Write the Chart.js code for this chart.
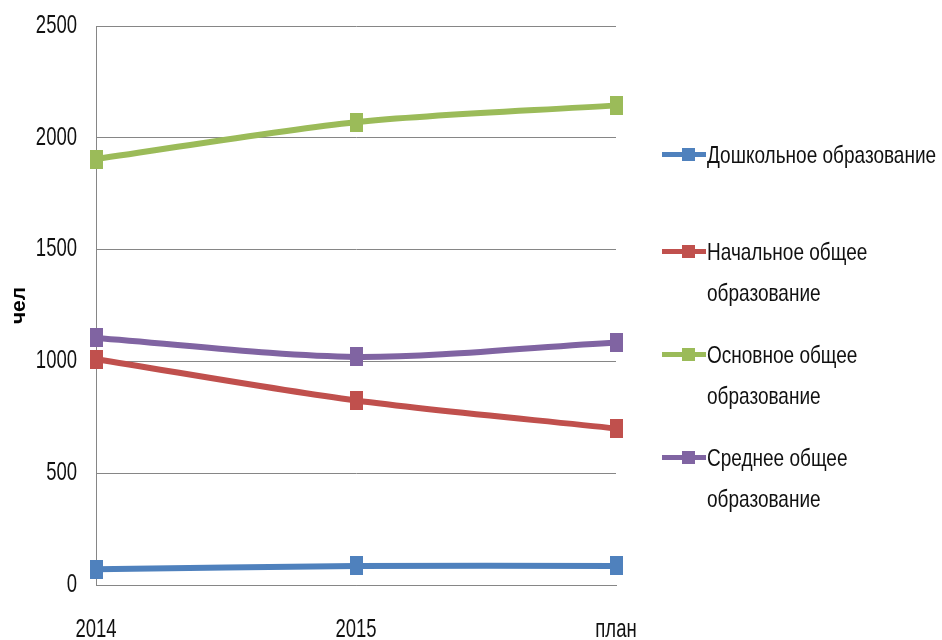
<!DOCTYPE html>
<html>
<head>
<meta charset="utf-8">
<script src="https://cdn.jsdelivr.net/npm/chart.js@4.4.1/dist/chart.umd.min.js"></script>
<style>
  html, body { margin: 0; padding: 0; background: #fff; }
  #wrap { position: relative; width: 942px; height: 640px; overflow: hidden; }
  #c { position: absolute; left: 0; top: 0; }
  #legend { position: absolute; left: 662px; top: 0; font-family: "Liberation Sans", sans-serif; font-size: 24px; color: #111; }
  .item { position: absolute; left: 0; white-space: nowrap; }
  .sym { position: absolute; left: 0; width: 44px; height: 5px; }
  .sym i { position: absolute; left: 20px; top: -4px; width: 13px; height: 13px; }
  .txt { position: absolute; left: 45px; line-height: 41px; transform-origin: 0 0; }
</style>
</head>
<body>
<div id="wrap">
  <canvas id="c" width="942" height="640"></canvas>
  <div id="legend"></div>
</div>
<script>
const categories = ["2014", "2015", "план"];
const seriesNames = [
  ["Дошкольное образование"],
  ["Начальное общее", "образование"],
  ["Основное общее", "образование"],
  ["Среднее общее", "образование"]
];
const preschool = [70, 85, 85];
const primary = [1010, 825, 700];
const basic = [1905, 2070, 2145];
const secondary = [1105, 1020, 1085];
const yTicks = [0, 500, 1000, 1500, 2000, 2500];
const colors = ["#4F81BD", "#C0504D", "#9BBB59", "#8064A2"];
const legendTops = [134, 231, 334, 437];

const values = [preschool, primary, basic, secondary];
const FONT = "'Liberation Sans', sans-serif";
const SQUEEZE = 0.74;

const canvas = document.getElementById('c');
const ctx = canvas.getContext('2d');
const origFill = ctx.fillText.bind(ctx);
ctx.fillText = function (text, x, y) {
  if (/bold/.test(this.font)) return origFill(text, x, y);
  this.save();
  this.translate(x, y);
  this.scale(SQUEEZE, 1);
  origFill(text, 0, 0);
  this.restore();
};

function marker(color) {
  const m = document.createElement('canvas');
  m.width = 13; m.height = 19;
  const g = m.getContext('2d');
  g.fillStyle = color;
  g.fillRect(0, 0, 13, 19);
  return m;
}

const datasets = values.map((v, i) => ({
  label: seriesNames[i].join(" "),
  data: v,
  borderColor: colors[i],
  backgroundColor: colors[i],
  borderWidth: 6,
  pointStyle: marker(colors[i]),
  pointRadius: 8,
  pointHoverRadius: 8,
  pointBorderWidth: 0,
  tension: 0.3,
  fill: false,
  clip: false
}));

new Chart(canvas, {
  type: 'line',
  data: { labels: categories, datasets },
  options: {
    responsive: false,
    animation: false,
    devicePixelRatio: 1,
    layout: { autoPadding: false, padding: { top: 26, right: 326, left: 0, bottom: 0 } },
    plugins: { legend: { display: false }, tooltip: { enabled: false } },
    scales: {
      x: {
        offset: false,
        grid: { display: false, drawTicks: false },
        border: { display: true, color: '#868686', width: 1 },
        ticks: { color: '#111', font: { family: FONT, size: 25 }, padding: 30, maxRotation: 0, autoSkip: false },
        afterFit: (s) => { s.height = 55; }
      },
      y: {
        min: 0, max: 2500,
        afterBuildTicks: (s) => { s.ticks = yTicks.map(v => ({ value: v })); },
        grid: { color: '#868686', lineWidth: 1, drawTicks: false },
        border: { display: true, color: '#868686', width: 1 },
        ticks: { color: '#111', font: { family: FONT, size: 25 }, padding: 19, callback: (v) => String(v) },
        title: { display: true, text: 'чел', color: '#000', font: { family: FONT, size: 21, weight: 'bold' }, padding: { top: 7, bottom: 0 } },
        afterFit: (s) => { s.width = 96; s.paddingTop = 10; s.paddingBottom = 10; }
      }
    }
  }
});

const lg = document.getElementById('legend');
const mctx = document.createElement('canvas').getContext('2d');
mctx.font = "24px 'Liberation Sans'";
const legendScale = 229 / mctx.measureText(seriesNames[0][0]).width;
seriesNames.forEach((lines, i) => {
  const it = document.createElement('div');
  it.className = 'item';
  it.style.top = legendTops[i] + 'px';
  const sym = document.createElement('div');
  sym.className = 'sym';
  sym.style.top = '18px';
  sym.style.background = colors[i];
  const sq = document.createElement('i');
  sq.style.background = colors[i];
  sym.appendChild(sq);
  const t = document.createElement('div');
  t.className = 'txt';
  t.style.transform = 'scaleX(' + legendScale.toFixed(3) + ')';
  t.innerHTML = lines.join('<br>');
  it.appendChild(sym);
  it.appendChild(t);
  lg.appendChild(it);
});
</script>
</body>
</html>
